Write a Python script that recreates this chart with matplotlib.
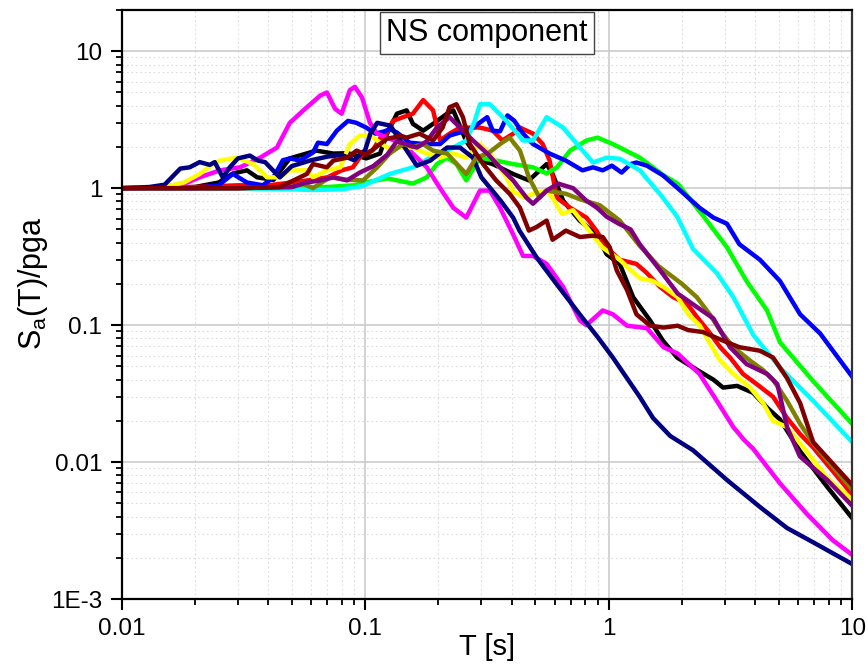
import numpy as np
import matplotlib
matplotlib.use('Agg')
import matplotlib.pyplot as plt
from matplotlib.ticker import LogLocator, FixedLocator, FixedFormatter, NullFormatter

plt.rcParams['font.family'] = ['Liberation Sans', 'DejaVu Sans']

# spectral ordinates normalised by pga
black_T = [0.01, 0.02, 0.025, 0.0286, 0.0327, 0.036, 0.042, 0.049, 0.063, 0.074, 0.085, 0.101, 0.115, 0.123, 0.135, 0.148, 0.157, 0.173, 0.19, 0.217, 0.23, 0.26, 0.296, 0.334, 0.405, 0.47, 0.556, 0.588, 0.65, 0.76, 0.89, 0.98, 1.11, 1.26, 1.48, 1.67, 1.91, 2.31, 2.69, 2.95, 3.37, 3.92, 4.47, 5.05, 6.11, 7.89, 10]
black_S = [1.0, 1.02, 1.1, 1.28, 1.35, 1.2, 1.15, 1.65, 1.88, 1.79, 1.8, 1.65, 1.79, 2.5, 3.5, 3.7, 2.95, 2.63, 2.95, 3.5, 3.7, 2.2, 1.59, 1.5, 1.27, 1.14, 1.5, 1.27, 0.81, 0.58, 0.46, 0.33, 0.28, 0.16, 0.108, 0.077, 0.058, 0.047, 0.04, 0.035, 0.036, 0.032, 0.025, 0.0205, 0.012, 0.0066, 0.0039]

red_T = [0.01, 0.02, 0.03, 0.04, 0.05, 0.06, 0.07, 0.08, 0.089, 0.0975, 0.107, 0.115, 0.123, 0.13, 0.143, 0.157, 0.173, 0.19, 0.203, 0.222, 0.245, 0.296, 0.334, 0.366, 0.405, 0.432, 0.489, 0.536, 0.572, 0.613, 0.694, 0.81, 0.89, 0.98, 1.11, 1.30, 1.435, 1.626, 1.84, 2.1, 2.31, 2.61, 2.87, 3.15, 3.56, 4.06, 4.73, 5.4, 6.11, 6.91, 10]
red_S = [1.0, 1.02, 1.05, 1.05, 1.1, 1.15, 1.2, 1.35, 1.42, 1.79, 1.88, 2.3, 2.55, 3.1, 3.3, 3.5, 4.4, 3.7, 2.23, 2.5, 2.77, 2.77, 2.63, 2.23, 2.5, 2.77, 2.5, 2.1, 1.59, 0.85, 0.72, 0.61, 0.49, 0.37, 0.30, 0.28, 0.24, 0.19, 0.16, 0.143, 0.114, 0.087, 0.069, 0.058, 0.044, 0.037, 0.030, 0.021, 0.016, 0.0128, 0.0058]

green_T = [0.01, 0.03, 0.05, 0.07, 0.09, 0.1, 0.123, 0.157, 0.179, 0.197, 0.217, 0.237, 0.26, 0.296, 0.345, 0.405, 0.489, 0.556, 0.613, 0.694, 0.81, 0.9, 1.04, 1.343, 1.68, 1.92, 2.44, 3.06, 3.68, 4.47, 5.05, 6.91, 10]
green_S = [1.0, 1.0, 1.0, 1.02, 1.05, 1.1, 1.18, 1.08, 1.2, 1.5, 1.67, 1.5, 1.14, 1.67, 1.59, 1.5, 1.42, 1.28, 1.42, 1.88, 2.23, 2.34, 2.1, 1.67, 1.24, 1.08, 0.63, 0.37, 0.21, 0.128, 0.075, 0.039, 0.019]

blue_T = [0.01, 0.02, 0.025, 0.0286, 0.0327, 0.038, 0.042, 0.0459, 0.049, 0.054, 0.061, 0.064, 0.0696, 0.0765, 0.085, 0.092, 0.101, 0.11, 0.12, 0.126, 0.135, 0.152, 0.175, 0.203, 0.222, 0.245, 0.277, 0.317, 0.334, 0.358, 0.384, 0.41, 0.445, 0.489, 0.572, 0.667, 0.78, 0.862, 0.945, 1.03, 1.13, 1.23, 1.30, 1.435, 1.67, 1.92, 2.36, 2.69, 3.06, 3.44, 4.18, 5.05, 6.11, 7.38, 10]
blue_S = [1.0, 1.0, 1.05, 1.27, 1.1, 1.05, 1.2, 1.6, 1.65, 1.59, 1.82, 2.15, 2.1, 2.63, 3.1, 3.0, 2.77, 2.5, 2.6, 2.7, 2.55, 2.15, 2.1, 2.1, 2.42, 2.55, 2.77, 3.3, 2.63, 2.6, 3.4, 3.1, 2.5, 2.1, 1.79, 1.59, 1.35, 1.42, 1.35, 1.46, 1.30, 1.5, 1.54, 1.46, 1.24, 1.0, 0.72, 0.61, 0.55, 0.39, 0.30, 0.21, 0.12, 0.087, 0.042]

cyan_T = [0.01, 0.03, 0.05, 0.061, 0.08, 0.098, 0.126, 0.157, 0.185, 0.23, 0.26, 0.28, 0.296, 0.325, 0.38, 0.445, 0.489, 0.556, 0.65, 0.762, 0.862, 0.98, 1.11, 1.343, 1.63, 1.91, 2.22, 2.78, 3.25, 3.92, 5.05, 6.91, 10]
cyan_S = [1.0, 1.0, 0.98, 0.97, 0.98, 1.04, 1.27, 1.42, 1.67, 1.98, 2.23, 3.0, 4.1, 4.1, 3.1, 2.23, 2.23, 3.3, 2.77, 1.98, 1.54, 1.67, 1.64, 1.35, 0.9, 0.62, 0.36, 0.24, 0.16, 0.085, 0.049, 0.028, 0.014]

magenta_T = [0.01, 0.015, 0.0186, 0.0209, 0.0253, 0.0306, 0.037, 0.0434, 0.049, 0.0576, 0.0654, 0.0696, 0.0752, 0.080, 0.0865, 0.0907, 0.097, 0.1046, 0.112, 0.123, 0.143, 0.179, 0.203, 0.23, 0.26, 0.296, 0.325, 0.358, 0.405, 0.445, 0.489, 0.556, 0.65, 0.762, 0.81, 0.945, 1.04, 1.19, 1.435, 1.68, 1.92, 2.36, 2.78, 3.25, 3.6, 3.92, 5.05, 6.5, 8.3, 10]
magenta_S = [1.0, 1.02, 1.1, 1.2, 1.35, 1.42, 1.67, 1.98, 3.0, 3.9, 4.75, 5.0, 3.8, 3.5, 5.2, 5.5, 4.6, 3.0, 2.5, 2.34, 2.1, 1.42, 1.0, 0.72, 0.61, 0.96, 0.96, 0.72, 0.46, 0.32, 0.32, 0.28, 0.19, 0.108, 0.10, 0.128, 0.12, 0.099, 0.095, 0.069, 0.062, 0.044, 0.028, 0.018, 0.0145, 0.0125, 0.0070, 0.0042, 0.0027, 0.0021]

yellow_T = [0.01, 0.015, 0.018, 0.0209, 0.0237, 0.0253, 0.0297, 0.0347, 0.0395, 0.0446, 0.049, 0.0576, 0.061, 0.0696, 0.079, 0.0865, 0.095, 0.105, 0.112, 0.123, 0.157, 0.179, 0.203, 0.23, 0.26, 0.296, 0.325, 0.38, 0.405, 0.45, 0.489, 0.556, 0.588, 0.643, 0.714, 0.81, 0.94, 1.11, 1.34, 1.52, 1.68, 1.92, 2.12, 2.36, 2.61, 2.87, 3.25, 3.81, 4.3, 4.73, 5.4, 6.11, 7.89, 10]
yellow_S = [1.0, 1.02, 1.1, 1.27, 1.5, 1.59, 1.67, 1.5, 1.2, 1.2, 1.35, 1.35, 1.2, 1.35, 1.42, 2.1, 2.42, 2.42, 2.23, 1.98, 1.98, 1.79, 1.67, 1.79, 1.67, 2.1, 1.79, 1.2, 0.95, 0.85, 0.91, 0.96, 0.85, 0.65, 0.69, 0.52, 0.37, 0.30, 0.22, 0.21, 0.19, 0.16, 0.12, 0.10, 0.073, 0.055, 0.044, 0.035, 0.027, 0.020, 0.018, 0.0137, 0.0077, 0.0053]

navy_T = [0.01, 0.013, 0.015, 0.0174, 0.019, 0.0209, 0.023, 0.0241, 0.026, 0.0278, 0.030, 0.0336, 0.0363, 0.0388, 0.0418, 0.0446, 0.05, 0.06, 0.07, 0.08, 0.09, 0.1, 0.105, 0.112, 0.127, 0.139, 0.163, 0.185, 0.217, 0.245, 0.277, 0.3, 0.36, 0.405, 0.43, 0.507, 0.61, 0.76, 0.9, 1.04, 1.34, 1.52, 1.79, 2.22, 3.06, 4.18, 5.4, 6.9, 10]
navy_S = [1.0, 1.02, 1.06, 1.39, 1.42, 1.55, 1.48, 1.55, 1.2, 1.42, 1.65, 1.73, 1.59, 1.55, 1.35, 1.2, 1.45, 1.6, 1.7, 1.75, 1.6, 1.9, 2.5, 3.0, 2.86, 2.23, 1.46, 1.59, 1.98, 1.98, 1.67, 1.2, 0.81, 0.61, 0.49, 0.31, 0.2, 0.12, 0.082, 0.058, 0.03, 0.021, 0.0155, 0.0122, 0.0074, 0.0047, 0.0033, 0.0026, 0.0018]

olive_T = [0.01, 0.03, 0.05, 0.0555, 0.061, 0.0716, 0.085, 0.098, 0.112, 0.126, 0.143, 0.157, 0.173, 0.19, 0.217, 0.245, 0.26, 0.286, 0.32, 0.358, 0.392, 0.432, 0.47, 0.52, 0.556, 0.62, 0.667, 0.762, 0.92, 1.11, 1.34, 1.6, 2.0, 2.3, 2.6, 2.87, 3.25, 3.81, 4.3, 4.73, 5.4, 6.11, 6.91, 10]
olive_S = [1.0, 1.0, 1.02, 1.08, 1.0, 1.2, 1.15, 1.14, 1.42, 1.79, 2.1, 2.0, 2.1, 1.88, 1.79, 1.42, 1.27, 1.67, 1.8, 2.1, 2.34, 1.88, 1.2, 0.85, 0.96, 0.93, 0.91, 0.83, 0.75, 0.58, 0.38, 0.27, 0.2, 0.16, 0.12, 0.091, 0.069, 0.055, 0.047, 0.04, 0.028, 0.019, 0.0137, 0.0063]

purple_T = [0.01, 0.03, 0.05, 0.0576, 0.0654, 0.0742, 0.0842, 0.095, 0.108, 0.123, 0.135, 0.163, 0.179, 0.197, 0.222, 0.245, 0.277, 0.317, 0.358, 0.405, 0.46, 0.489, 0.556, 0.62, 0.714, 0.81, 0.895, 0.98, 1.1, 1.23, 1.34, 1.63, 1.92, 2.31, 2.69, 3.15, 3.68, 4.47, 4.93, 5.4, 6.1, 7.9, 10]
purple_S = [1.0, 1.0, 1.02, 1.1, 1.14, 1.2, 1.14, 1.3, 1.45, 1.75, 2.2, 1.98, 2.2, 2.77, 3.3, 2.77, 2.23, 1.79, 1.42, 1.14, 0.85, 0.77, 0.96, 1.08, 1.0, 0.81, 0.72, 0.62, 0.55, 0.5, 0.39, 0.25, 0.17, 0.135, 0.112, 0.069, 0.052, 0.044, 0.037, 0.018, 0.011, 0.0074, 0.0048]

maroon_T = [0.01, 0.03, 0.0446, 0.0576, 0.061, 0.0696, 0.074, 0.0842, 0.0923, 0.101, 0.115, 0.123, 0.13, 0.139, 0.148, 0.167, 0.19, 0.208, 0.222, 0.237, 0.252, 0.269, 0.305, 0.345, 0.392, 0.432, 0.47, 0.505, 0.556, 0.588, 0.667, 0.762, 0.862, 0.945, 1.01, 1.08, 1.19, 1.30, 1.48, 1.68, 1.92, 2.12, 2.44, 2.95, 3.44, 4.18, 4.73, 5.4, 6.11, 6.91, 10]
maroon_S = [1.0, 1.0, 1.02, 1.27, 1.5, 1.42, 1.59, 1.67, 1.88, 1.75, 2.1, 2.3, 2.34, 2.42, 2.34, 2.5, 2.23, 2.77, 3.9, 4.1, 3.3, 2.1, 1.5, 1.14, 0.91, 0.72, 0.49, 0.52, 0.58, 0.42, 0.49, 0.44, 0.45, 0.44, 0.37, 0.25, 0.18, 0.12, 0.099, 0.096, 0.099, 0.092, 0.089, 0.077, 0.069, 0.065, 0.058, 0.041, 0.027, 0.014, 0.0068]

curves = [
    (black_T, black_S, '#000000'),
    (red_T, red_S, '#ff0000'),
    (green_T, green_S, '#00ff00'),
    (blue_T, blue_S, '#0000ff'),
    (cyan_T, cyan_S, '#00ffff'),
    (magenta_T, magenta_S, '#ff00ff'),
    (yellow_T, yellow_S, '#ffff00'),
    (navy_T, navy_S, '#000080'),
    (olive_T, olive_S, '#808000'),
    (purple_T, purple_S, '#800080'),
    (maroon_T, maroon_S, '#800000'),
]

fig = plt.figure(figsize=(8.68, 6.67), dpi=100)
ax = fig.add_axes([0.1402, 0.1019, 0.8416, 0.8831])

for T, S, c in curves:
    ax.plot(np.array(T), np.array(S), color=c, lw=3.2, solid_joinstyle='round')

ax.set_xscale('log')
ax.set_yscale('log')
ax.set_xlim(0.01, 10)
ax.set_ylim(1e-3, 20)

ax.xaxis.set_major_locator(FixedLocator([0.01, 0.1, 1, 10]))
ax.xaxis.set_major_formatter(FixedFormatter(['0.01', '0.1', '1', '10']))
ax.yaxis.set_major_locator(FixedLocator([1e-3, 0.01, 0.1, 1, 10]))
ax.yaxis.set_major_formatter(FixedFormatter(['1E-3', '0.01', '0.1', '1', '10']))
ax.xaxis.set_minor_locator(LogLocator(base=10, subs=np.arange(2, 10), numticks=20))
ax.yaxis.set_minor_locator(LogLocator(base=10, subs=np.arange(2, 10), numticks=20))
ax.xaxis.set_minor_formatter(NullFormatter())
ax.yaxis.set_minor_formatter(NullFormatter())

ax.tick_params(which='major', direction='out', length=8, width=1.5, labelsize=17.5, pad=6)
ax.tick_params(which='minor', direction='out', length=4.5, width=1.3)
ax.tick_params(top=False, right=False, which='both')

ax.grid(True, which='major', color='#c8c8c8', lw=1.1, ls='-')
ax.grid(True, which='minor', color='#dcdcdc', lw=0.8, ls=(0, (1.5, 2.5)))
ax.set_axisbelow(True)

for s in ax.spines.values():
    s.set_linewidth(1.6)
    s.set_color('black')
ax.spines['right'].set_color('#333333')

ax.set_xlabel('T [s]', fontsize=21)
ax.set_ylabel('$\\mathregular{S_a}$(T)/pga', fontsize=22)
ax.xaxis.set_label_coords(0.5, -0.058)
ax.yaxis.set_label_coords(-0.098, 0.537)

ax.text(0.5, 0.961, 'NS component', transform=ax.transAxes, ha='center', va='center',
        fontsize=22, bbox=dict(boxstyle='square,pad=0.2', fc='white', ec='#444444', lw=1.0))

plt.savefig('out.png', dpi=100)
